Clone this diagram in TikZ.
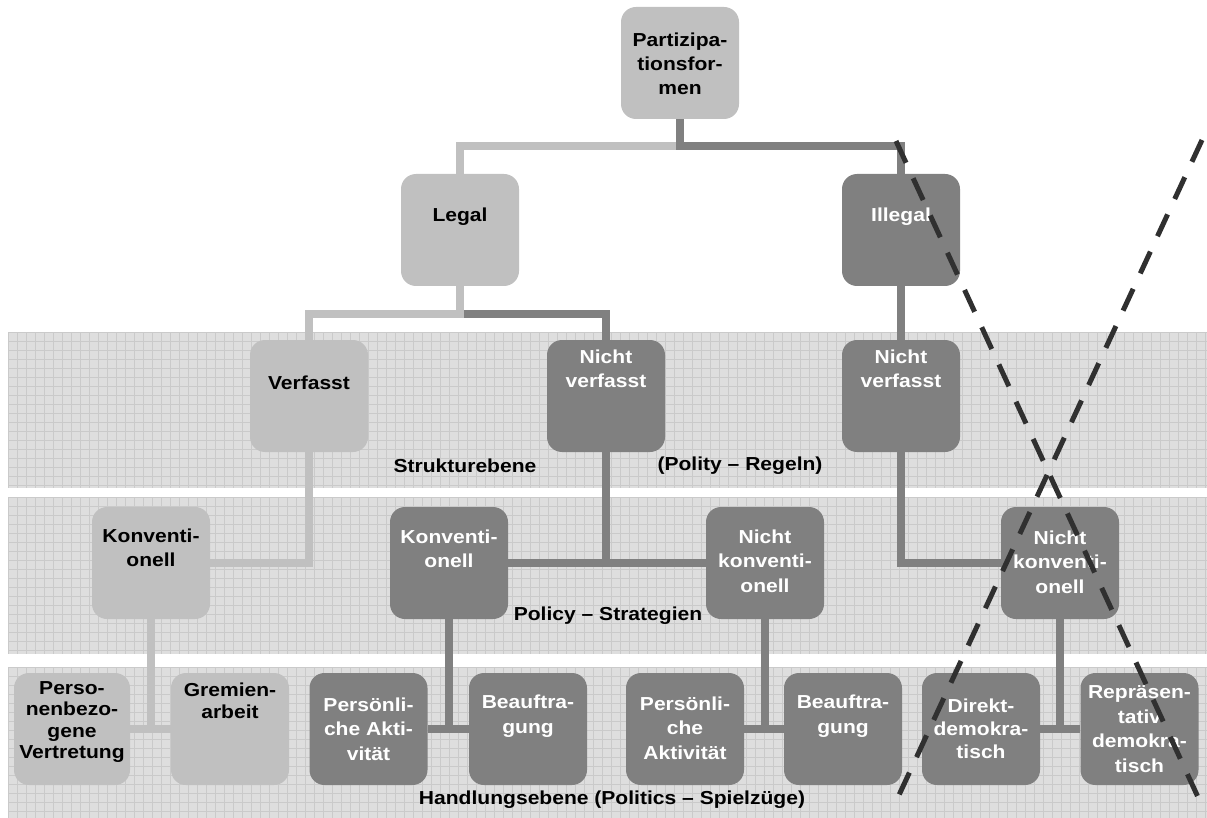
\documentclass[tikz,border=0pt]{standalone}
\usepackage{fontspec}
\setmainfont{Liberation Sans}[FakeStretch=1.12]
\definecolor{lightbox}{HTML}{C0C0C0}
\definecolor{darkbox}{HTML}{808080}
\definecolor{bandcol}{HTML}{DEDEDE}
\definecolor{gridcol}{HTML}{CACACA}
\definecolor{xcol}{HTML}{303030}
\begin{document}
\begin{tikzpicture}[x=1pt,y=-1pt,
  box/.style={rectangle,rounded corners=15pt,minimum width=118pt,minimum height=112pt,inner sep=0pt,draw=none},
  lbox/.style={box,fill=lightbox},
  dbox/.style={box,fill=darkbox},
  txt/.style={align=center,inner sep=0pt,font=\fontsize{18.8}{24.5}\selectfont\bfseries},
  ltxt/.style={txt,text=black},
  dtxt/.style={txt,text=white},
  lconn/.style={draw=lightbox,line width=8pt},
  dconn/.style={draw=darkbox,line width=8pt},
  band/.style={fill=bandcol},
  gridl/.style={draw=gridcol,line width=0.9pt},
  xline/.style={draw=xcol,line width=5pt,dash pattern=on 24pt off 17pt}
]
\useasboundingbox (0,0) rectangle (1207,818);
\fill[white] (0,0) rectangle (1207,818);

% bands
\fill[band] (8,332) rectangle (1207,488);
\fill[band] (8,497) rectangle (1207,654);
\fill[band] (8,667) rectangle (1207,818);
\begin{scope}
\clip (8,332) rectangle (1207,488);
\foreach \xx in {8,17,...,1207} \draw[gridl] (\xx,332) -- (\xx,488);
\foreach \yy in {332,341,...,488} \draw[gridl] (8,\yy) -- (1207,\yy);
\end{scope}
\begin{scope}
\clip (8,497) rectangle (1207,654);
\foreach \xx in {8,17,...,1207} \draw[gridl] (\xx,497) -- (\xx,654);
\foreach \yy in {497,506,...,654} \draw[gridl] (8,\yy) -- (1207,\yy);
\end{scope}
\begin{scope}
\clip (8,667) rectangle (1207,818);
\foreach \xx in {8,17,...,1207} \draw[gridl] (\xx,667) -- (\xx,818);
\foreach \yy in {667,676,...,818} \draw[gridl] (8,\yy) -- (1207,\yy);
\end{scope}

% boxes
\node[lbox] (part) at (680,63) {};
\node[lbox] (legal) at (460,230) {};
\node[dbox] (illegal) at (901,230) {};
\node[lbox] (verf) at (309,396) {};
\node[dbox] (nvm) at (606,396) {};
\node[dbox] (nvr) at (901,396) {};
\node[lbox] (konl) at (151,563) {};
\node[dbox] (konm) at (449,563) {};
\node[dbox] (nkm) at (765,563) {};
\node[dbox] (nkr) at (1060,563) {};
\node[lbox,minimum width=116pt] (perso) at (72,729) {};
\node[lbox] (grem) at (230,729) {};
\node[dbox] (pa1) at (368.5,729) {};
\node[dbox] (be1) at (528,729) {};
\node[dbox] (pa2) at (685,729) {};
\node[dbox] (be2) at (843,729) {};
\node[dbox] (dd) at (981,729) {};
\node[dbox] (rd) at (1139.5,729) {};

% junction coordinates
\coordinate (j1) at (680,146);
\coordinate (j2) at (460,314);

% connectors
\draw[lconn] (part.south) -- (j1) -| (legal.north);
\draw[dconn] (part.south) -- (j1) -| (illegal.north);
\draw[dconn] (legal.south) -- (j2) -| (nvm.north);
\draw[lconn] (legal.south) -- (j2) -| (verf.north);
\draw[dconn] (illegal.south) -- (nvr.north);
\draw[lconn] (verf.south) |- (konl.east);
\draw[dconn] (nvm.south) |- (konm.east);
\draw[dconn] (nvm.south) |- (nkm.west);
\draw[dconn] (nvr.south) |- (nkr.west);
\draw[lconn] (konl.south) |- (perso.east);
\draw[lconn] (konl.south) |- (grem.west);
\draw[dconn] (konm.south) |- (pa1.east);
\draw[dconn] (konm.south) |- (be1.west);
\draw[dconn] (nkm.south) |- (pa2.east);
\draw[dconn] (nkm.south) |- (be2.west);
\draw[dconn] (nkr.south) |- (dd.east);
\draw[dconn] (nkr.south) |- (rd.west);

% texts
\node[ltxt,font=\fontsize{18.8}{24}\selectfont\bfseries] (partT) at (680,64) {Partizipa-\\tionsfor-\\men};
\node[ltxt] (legalT) at (460,217) {Legal};
\node[dtxt] (illegalT) at (901,217) {Illegal};
\node[ltxt] (verfT) at (309,383) {Verfasst};
\node[dtxt] (nvmT) at (606,369) {Nicht\\verfasst};
\node[dtxt] (nvrT) at (901,369) {Nicht\\verfasst};
\node[ltxt] (konlT) at (151,548) {Konventi-\\onell};
\node[dtxt] (konmT) at (449,549) {Konventi-\\onell};
\node[dtxt] (nkmT) at (765,561) {Nicht\\konventi-\\onell};
\node[dtxt] (nkrT) at (1060,562) {Nicht\\konventi-\\onell};
\node[ltxt,font=\fontsize{18.8}{21.5}\selectfont\bfseries] (persoT) at (72,722) {Perso-\\nenbezo-\\gene\\Vertretung};
\node[ltxt,font=\fontsize{18.8}{21.5}\selectfont\bfseries] (gremT) at (230,701) {Gremien-\\arbeit};
\node[dtxt] (pa1T) at (368.5,729) {Persönli-\\che Akti-\\vität};
\node[dtxt] (be1T) at (528,716) {Beauftra-\\gung};
\node[dtxt] (pa2T) at (685,728) {Persönli-\\che\\Aktivität};
\node[dtxt] (be2T) at (843,716) {Beauftra-\\gung};
\node[dtxt,font=\fontsize{18.8}{23}\selectfont\bfseries] (ddT) at (981,729) {Direkt-\\demokra-\\tisch};
\node[dtxt] (rdT) at (1139.5,729) {Repräsen-\\tativ\\demokra-\\tisch};

% band labels
\node[ltxt] (struk) at (465,466) {Strukturebene};
\node[ltxt] (polity) at (740,466) {(Polity – Regeln)};
\node[ltxt] (policy) at (608,616) {Policy – Strategien};
\node[ltxt] (handl) at (612,800) {Handlungsebene (Politics – Spielzüge)};

% crossing dashed lines
\coordinate (xa1) at (896,141);
\coordinate (xa2) at (1203,808);
\coordinate (xb1) at (1202,140);
\coordinate (xb2) at (893,808);
\draw[xline] (xa1) -- (xa2);
\draw[xline] (xb1) -- (xb2);
\end{tikzpicture}
\end{document}
